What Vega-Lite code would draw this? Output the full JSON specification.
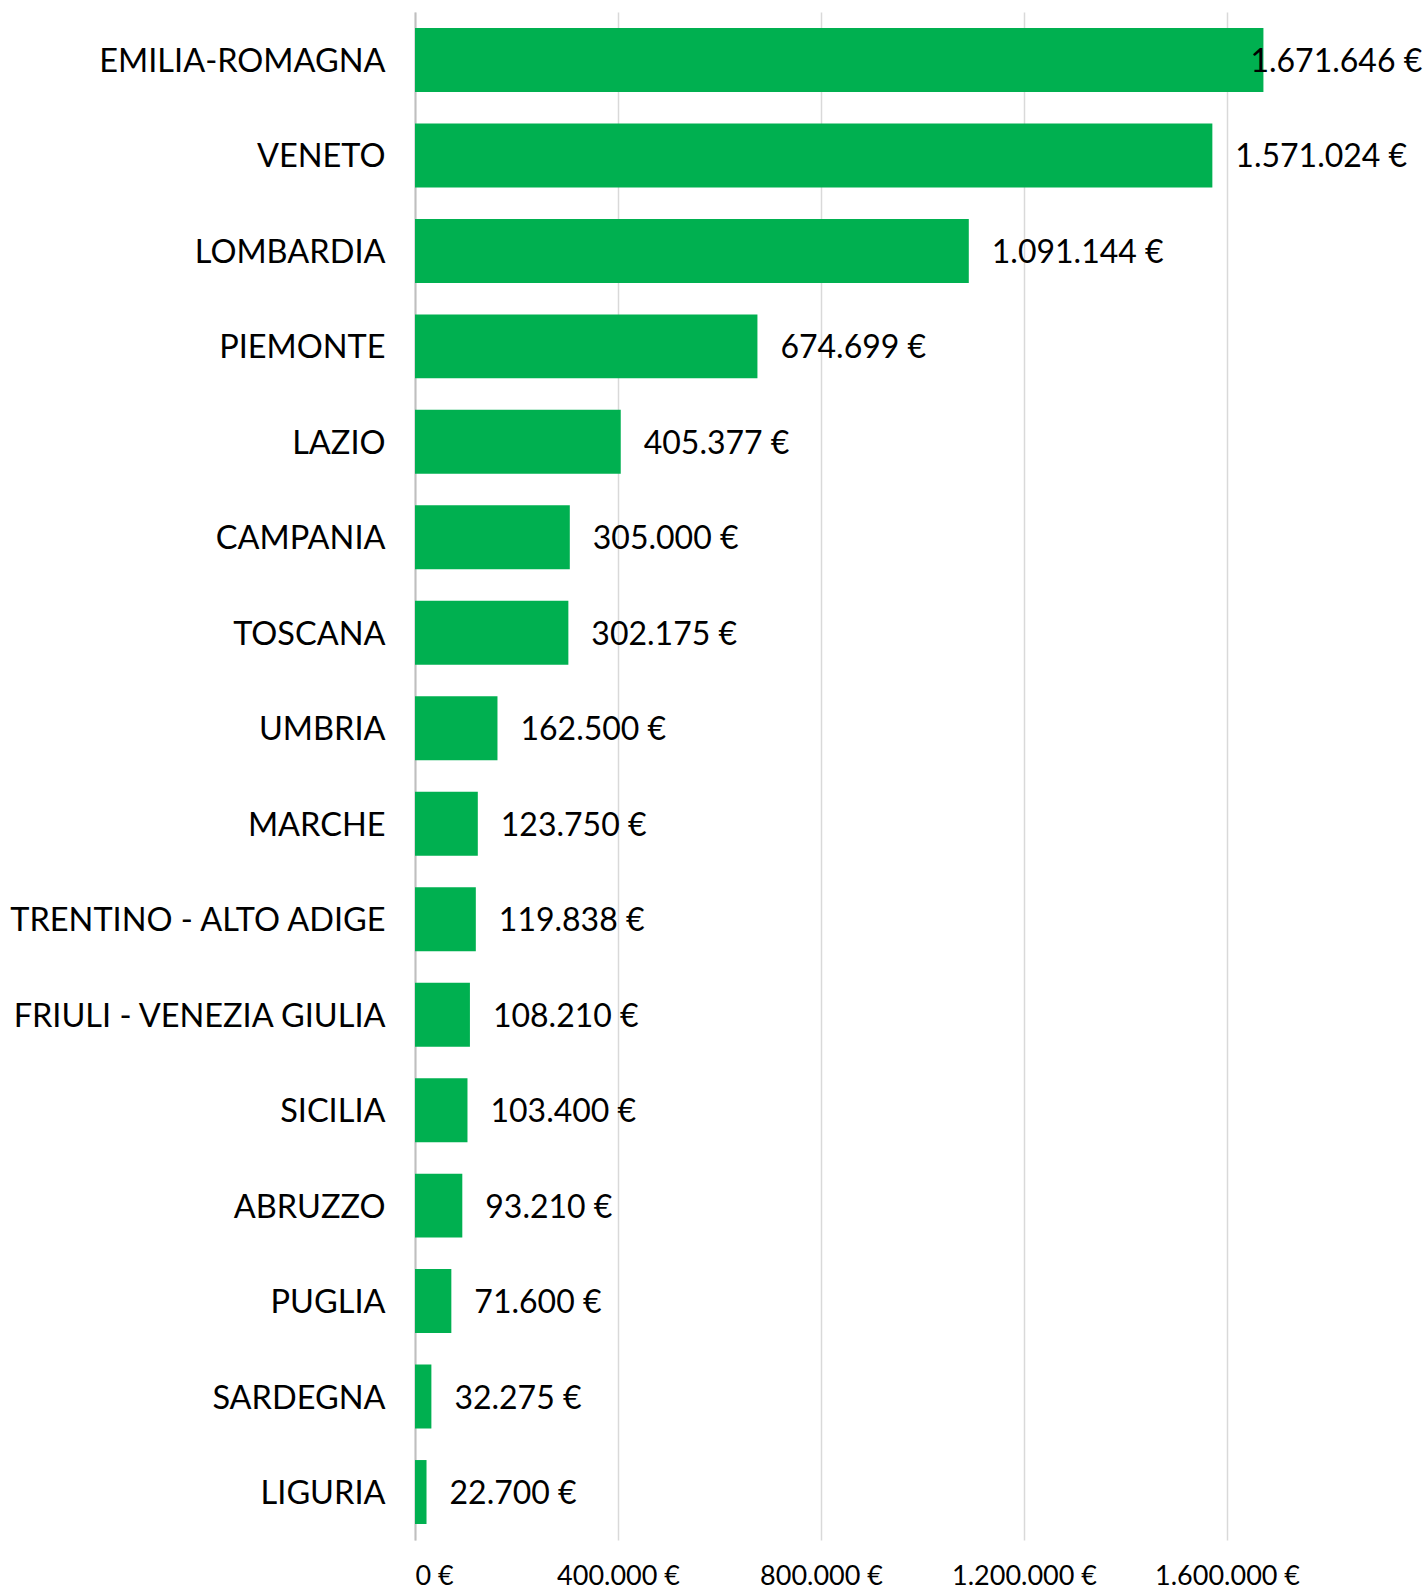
{
  "$schema": "https://vega.github.io/schema/vega-lite/v6.json",
  "autosize": "none",
  "padding": {"left": 415, "top": 12, "right": 0, "bottom": 48},
  "width": 1010,
  "height": 1528,
  "background": "white",
  "config": {
    "view": {"stroke": null},
    "font": "Lato",
    "axis": {"labelFont": "Lato", "labelColor": "#000000"},
    "locale": {
      "number": {"decimal": ",", "thousands": ".", "grouping": [3], "currency": ["", " €"]}
    }
  },
  "data": {
    "values": [
      {"regione": "EMILIA-ROMAGNA", "importo": 1671646},
      {"regione": "VENETO", "importo": 1571024},
      {"regione": "LOMBARDIA", "importo": 1091144},
      {"regione": "PIEMONTE", "importo": 674699},
      {"regione": "LAZIO", "importo": 405377},
      {"regione": "CAMPANIA", "importo": 305000},
      {"regione": "TOSCANA", "importo": 302175},
      {"regione": "UMBRIA", "importo": 162500},
      {"regione": "MARCHE", "importo": 123750},
      {"regione": "TRENTINO - ALTO ADIGE", "importo": 119838},
      {"regione": "FRIULI - VENEZIA GIULIA", "importo": 108210},
      {"regione": "SICILIA", "importo": 103400},
      {"regione": "ABRUZZO", "importo": 93210},
      {"regione": "PUGLIA", "importo": 71600},
      {"regione": "SARDEGNA", "importo": 32275},
      {"regione": "LIGURIA", "importo": 22700}
    ]
  },
  "encoding": {
    "y": {
      "field": "regione",
      "type": "nominal",
      "sort": ["EMILIA-ROMAGNA", "VENETO", "LOMBARDIA", "PIEMONTE", "LAZIO", "CAMPANIA", "TOSCANA", "UMBRIA", "MARCHE", "TRENTINO - ALTO ADIGE", "FRIULI - VENEZIA GIULIA", "SICILIA", "ABRUZZO", "PUGLIA", "SARDEGNA", "LIGURIA"],
      "scale": {"paddingInner": 0.33, "paddingOuter": 0.1675},
      "axis": {
        "title": null,
        "ticks": false,
        "domain": true,
        "domainColor": "#bfbfbf",
        "domainWidth": 2,
        "labelFontSize": 32.5,
        "labelPadding": 30,
        "labelOffset": 2,
        "labelLimit": 500
      }
    },
    "x": {
      "field": "importo",
      "type": "quantitative",
      "scale": {"domain": [0, 1990000], "nice": false},
      "axis": {
        "title": null,
        "values": [0, 400000, 800000, 1200000, 1600000],
        "format": "$,.0f",
        "ticks": false,
        "domain": false,
        "grid": true,
        "gridColor": "#d9d9d9",
        "gridWidth": 1.5,
        "labelFontSize": 27,
        "labelPadding": 23,
        "labelBaseline": "top"
      }
    }
  },
  "layer": [
    {"mark": {"type": "bar", "color": "#00b050"}},
    {
      "transform": [{"filter": "datum.importo < 1600000"}],
      "mark": {"type": "text", "align": "left", "baseline": "middle", "dx": 23, "dy": 2, "fontSize": 32, "font": "Lato", "color": "#000000"},
      "encoding": {"text": {"field": "importo", "type": "quantitative", "format": "$,.0f"}}
    },
    {
      "transform": [{"filter": "datum.importo >= 1600000"}],
      "mark": {"type": "text", "align": "left", "baseline": "middle", "dx": -13, "dy": 2, "fontSize": 32, "font": "Lato", "color": "#000000"},
      "encoding": {"text": {"field": "importo", "type": "quantitative", "format": "$,.0f"}}
    }
  ]
}
